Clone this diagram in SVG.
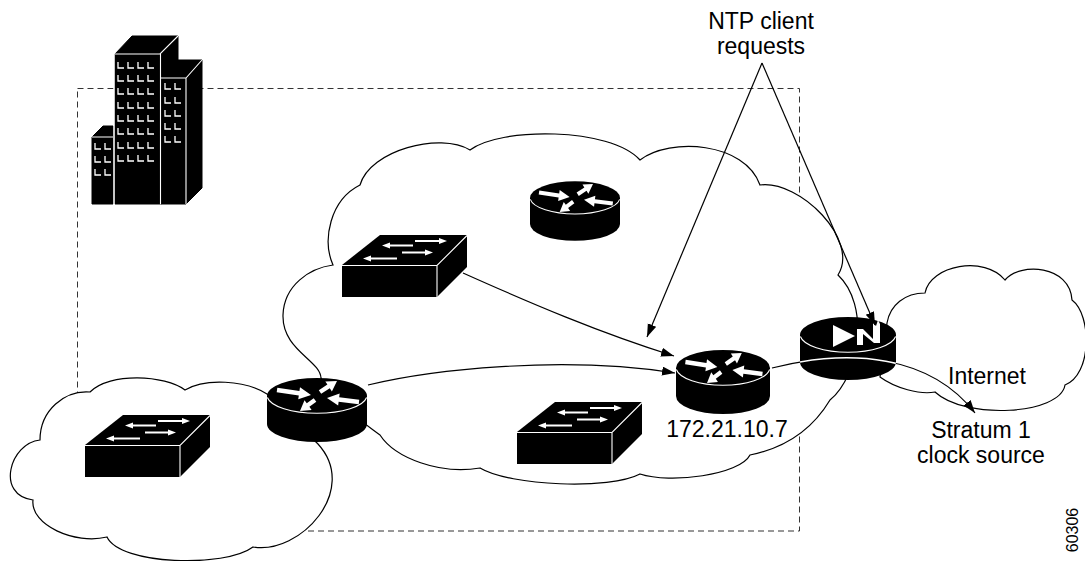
<svg xmlns="http://www.w3.org/2000/svg" width="1085" height="561" viewBox="0 0 1085 561">
<style>
  .cloud{fill:#fff;stroke:#000;stroke-width:1.2}
  .link{fill:none;stroke:#000;stroke-width:1.2}
  .lbl{font-family:"Liberation Sans",Arial,Helvetica,sans-serif;font-size:23px;fill:#000}
  .hi{fill:#fff}
  .edge{fill:none;stroke:#fff;stroke-width:1.1}
  .win{fill:none;stroke:#fff;stroke-width:1.3}
  .site{fill:none;stroke:#333;stroke-width:1;stroke-dasharray:6 4}
</style>
<defs>
  <marker id="head" markerWidth="14" markerHeight="10" refX="13" refY="4.5" orient="auto" markerUnits="userSpaceOnUse">
    <path d="M0,0 L13,4.5 L0,9 Z" fill="#000"/>
  </marker>
  <!-- router: cylinder with four white arrows, origin at centre of top face -->
  <g id="router">
    <path d="M-50,0 V28 A50,18 0 0 0 50,28 V0 Z" fill="#000"/>
    <ellipse cx="0" cy="0" rx="50" ry="18" fill="#000"/>
    <path d="M-49.6,1.5 A50,18 0 0 0 49.6,1.5" class="edge"/>
    <polygon class="hi" points="-40.32,-3.82 -18.19,-0.57 -18.74,3.18 -6,-1 -17,-8.68 -17.55,-4.93 -39.68,-8.18"/>
    <polygon class="hi" points="42.27,3.82 22.17,1.31 22.64,-2.46 10,2 21.16,9.44 21.63,5.67 41.73,8.18"/>
    <polygon class="hi" points="4.2,-2.15 12.8,-7.72 14.86,-4.53 20,-15 8.34,-14.61 10.4,-11.42 1.8,-5.85"/>
    <polygon class="hi" points="-3.3,2.23 -10.24,7.32 -12.49,4.25 -17,15 -5.39,13.93 -7.64,10.86 -0.7,5.77"/>
  </g>
  <!-- workgroup switch: box with four white arrows on the top face -->
  <g id="switch">
    <path d="M0,30 L38,0 L125,0 L125,32 L95,62 L0,62 Z" fill="#000"/>
    <path d="M0,30.5 H95 L125,0.5 M95,30.5 V62" class="edge"/>
    <polygon class="hi" points="40,10.5 48,7.5 48,9.6 71,9.6 71,11.4 48,11.4 48,13.5"/>
    <polygon class="hi" points="105,6 97,3 97,5.1 73,5.1 73,6.9 97,6.9 97,9"/>
    <polygon class="hi" points="91,17.5 83,14.5 83,16.6 60,16.6 60,18.4 83,18.4 83,20.5"/>
    <polygon class="hi" points="21,23.5 29,20.5 29,22.6 55,22.6 55,24.4 29,24.4 29,26.5"/>
  </g>
  <clipPath id="pixClip">
    <path transform="translate(848,335)" d="M-48,0 A48,18 0 0 1 48,0 V27 A48,18 0 0 1 -48,27 Z"/>
  </clipPath>
</defs>

<!-- campus boundary -->
<rect class="site" x="77.5" y="88.5" width="722" height="442.5"/>

<!-- network clouds -->
<g id="clouds">
  <path id="cloud-branch" class="cloud" d="M267,394 C245,380 205,378 185,390 C165,375 110,372 90,392 C65,390 40,410 40,440 C10,443 -5,495 33,500 C30,525 75,545 107,537 C120,565 225,568 253,547 C300,555 360,490 318,444 Z"/>
  <path id="cloud-campus" class="cloud" d="M333,265 C322,240 330,200 360,185 C370,150 440,132 470,150 C500,127 610,127 640,160 C670,137 745,142 760,185 C800,180 860,240 838,275 C870,305 860,375 830,400 C812,430 785,448 750,455 C740,475 670,484 640,474 C610,490 510,486 480,468 C440,475 395,458 380,435 C360,420 330,400 321,378 C320,360 282,350 283,315 C284,285 310,268 333,265 Z"/>
  <path id="cloud-internet" class="cloud" d="M887,323 C890,305 905,293 925,293 C930,265 985,255 1005,280 C1020,262 1070,265 1072,300 C1092,315 1092,375 1065,385 C1060,415 965,420 935,392 C920,395 895,388 880,377 Z"/>
</g>

<!-- office building -->
<g id="building">
  <g fill="#000" stroke="#000" stroke-width="1">
    <polygon points="92,137 103,126 113,126 113,204 92,204"/>
    <polygon points="115,54 132,36 178,36 178,200 160,204 115,204"/>
    <polygon points="161,78 177,60 202,60 202,188 186,204 161,204"/>
  </g>
  <path class="edge" d="M114,54 V204 M115,54 H160 L178,36 M160.5,54 V204 M161,78 H186 L202,60 M186,78 V204 M92,137 H113"/>
  <path class="win" d="M118,62v6h6M128,62v6h6M138,62v6h6M148,62v6h6M118,75v6h6M128,75v6h6M138,75v6h6M148,75v6h6M118,88v6h6M128,88v6h6M138,88v6h6M148,88v6h6M118,102v6h6M128,102v6h6M138,102v6h6M148,102v6h6M118,115v6h6M128,115v6h6M138,115v6h6M148,115v6h6M118,128v6h6M128,128v6h6M138,128v6h6M148,128v6h6M118,142v6h6M128,142v6h6M138,142v6h6M148,142v6h6M118,155v6h6M128,155v6h6M138,155v6h6M148,155v6h6M165,83v6h6M175,83v6h6M165,97v6h6M175,97v6h6M165,110v6h6M175,110v6h6M165,123v6h6M175,123v6h6M165,136v6h6M175,136v6h6M95,143v6h6M105,143v6h6M95,156v6h6M105,156v6h6M95,169v6h6M105,169v6h6"/>
</g>

<!-- switches -->
<g id="switch-campus-top"><use href="#switch" transform="translate(342,235)"/></g>
<g id="switch-campus-bottom"><use href="#switch" transform="translate(517,402)"/></g>
<g id="switch-branch"><use href="#switch" transform="translate(85,415)"/></g>

<!-- routers -->
<g id="router-campus-top"><use href="#router" transform="translate(575,198) scale(0.9,0.93)"/></g>
<g id="router-ntp"><use href="#router" transform="translate(723,368) scale(0.94,1)"/></g>
<g id="router-branch"><use href="#router" transform="translate(317,396)"/></g>

<!-- firewall -->
<g id="firewall" transform="translate(848,335)">
  <path d="M-48,0 V27 A48,18 0 0 0 48,27 V0 Z" fill="#000"/>
  <ellipse cx="0" cy="0" rx="48" ry="18" fill="#000"/>
  <path d="M-47.6,1.5 A48,18 0 0 0 47.6,1.5" class="edge"/>
  <polygon class="hi" points="-15,-10 -15,12 7,1"/>
  <polygon class="hi" points="9,10 9,-6 15,-6 25,4 25,-12 28,-9 30,-15 32,-11 32,8 26,8 15,-1 15,10"/>
</g>

<!-- connectors -->
<g id="connectors">
  <path class="link" d="M463,273 C530,303 600,333 674,356" marker-end="url(#head)"/>
  <path class="link" d="M368,385 C430,370 560,355 675,373" marker-end="url(#head)"/>
  <path class="link" d="M772,368 C850,348 930,355 975,413" marker-end="url(#head)"/>
  <path d="M772,368 C850,348 930,355 975,413" fill="none" stroke="#fff" stroke-width="1.6" clip-path="url(#pixClip)"/>
  <path class="link" d="M762,63 L647,337" marker-end="url(#head)"/>
  <path class="link" d="M762,63 L875,325" marker-end="url(#head)"/>
</g>

<!-- labels -->
<g id="labels">
  <text class="lbl" x="761" y="29" text-anchor="middle">NTP client</text>
  <text class="lbl" x="761" y="54" text-anchor="middle">requests</text>
  <text class="lbl" x="727" y="437" text-anchor="middle">172.21.10.7</text>
  <text class="lbl" x="987" y="384" text-anchor="middle">Internet</text>
  <text class="lbl" x="981" y="438" text-anchor="middle">Stratum 1</text>
  <text class="lbl" x="981" y="463" text-anchor="middle">clock source</text>
  <text transform="translate(1078,530) rotate(-90)" text-anchor="middle" font-family="Liberation Sans, Arial, sans-serif" font-size="16">60306</text>
</g>
</svg>
